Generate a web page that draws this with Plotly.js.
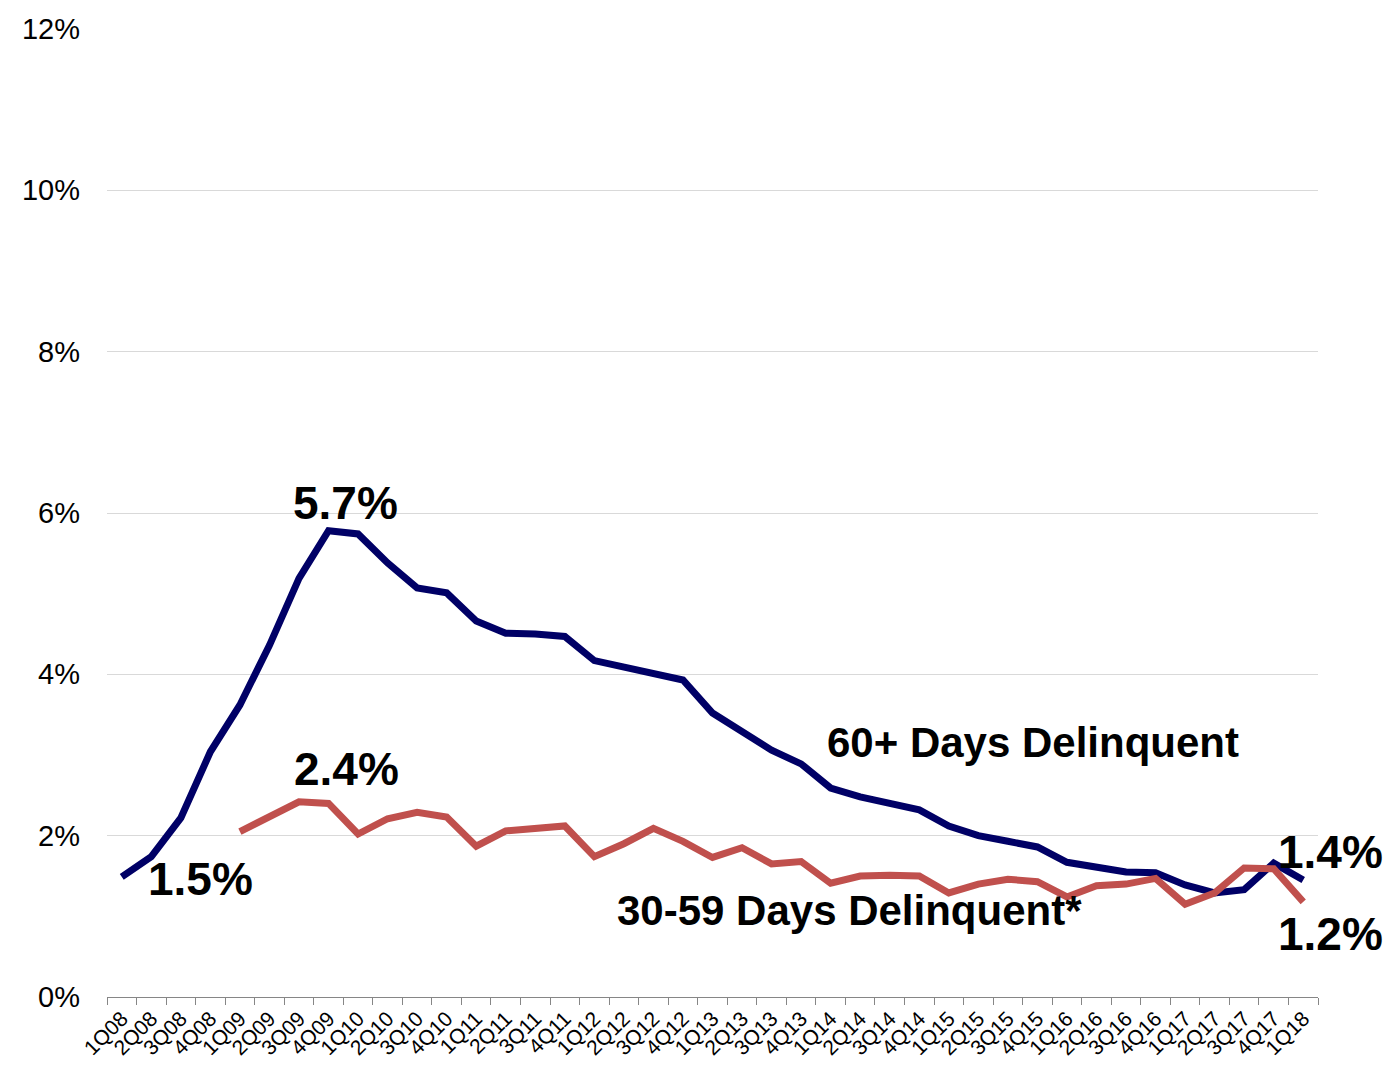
<!DOCTYPE html>
<html>
<head>
<meta charset="utf-8">
<script src="https://cdn.plot.ly/plotly-3.0.1.min.js"></script>
<style>
  html, body { margin: 0; padding: 0; background: #fff; }
  #plot { width: 1389px; height: 1066px; }
</style>
</head>
<body>
<div id="plot"></div>
<script>
const quarters = [
    '1Q08', '2Q08', '3Q08', '4Q08',
    '1Q09', '2Q09', '3Q09', '4Q09',
    '1Q10', '2Q10', '3Q10', '4Q10',
    '1Q11', '2Q11', '3Q11', '4Q11',
    '1Q12', '2Q12', '3Q12', '4Q12',
    '1Q13', '2Q13', '3Q13', '4Q13',
    '1Q14', '2Q14', '3Q14', '4Q14',
    '1Q15', '2Q15', '3Q15', '4Q15',
    '1Q16', '2Q16', '3Q16', '4Q16',
    '1Q17', '2Q17', '3Q17', '4Q17',
    '1Q18',
];

// 60+ days delinquent, percent
const delinq60 = [
    1.49, 1.74, 2.22, 3.04,
    3.62, 4.36, 5.19, 5.78,
    5.74, 5.38, 5.07, 5.01,
    4.66, 4.51, 4.50, 4.47,
    4.17, 4.09, 4.03, 3.93,
    3.52, 3.30, 3.06, 2.89,
    2.59, 2.48, 2.39, 2.32,
    2.12, 2.00, 1.93, 1.86,
    1.67, 1.60, 1.55, 1.54,
    1.39, 1.29, 1.33, 1.66,
    1.45,
];

// 30-59 days delinquent, percent (series starts 1Q09)
const delinq30 = [
    null, null, null, null,
    2.05, 2.24, 2.42, 2.40,
    2.02, 2.21, 2.29, 2.23,
    1.87, 2.06, 2.08, 2.12,
    1.74, 1.90, 2.09, 1.93,
    1.73, 1.85, 1.65, 1.68,
    1.41, 1.50, 1.51, 1.50,
    1.29, 1.40, 1.46, 1.43,
    1.24, 1.38, 1.40, 1.47,
    1.15, 1.29, 1.60, 1.59,
    1.18,
];

const yTicks = [0, 2, 4, 6, 8, 10, 12];
const yTickText = ['0%', '2%', '4%', '6%', '8%', '10%', '12%'];

const font = 'Arial, "Liberation Sans", sans-serif';
const navy = '#000066';
const red = '#C0504D';

const data = [
    {
        x: quarters,
        y: delinq60,
        type: 'scatter',
        mode: 'lines',
        name: '60+ Days Delinquent',
        line: {color: navy, width: 7},
    },
    {
        x: quarters,
        y: delinq30,
        type: 'scatter',
        mode: 'lines',
        name: '30-59 Days Delinquent*',
        connectgaps: false,
        line: {color: red, width: 7},
    },
];

function label(text, x, y, size, xref) {
    return {
        text: '<b>' + text + '</b>',
        x: x,
        y: y,
        xref: xref || 'x',
        yref: 'y',
        showarrow: false,
        xanchor: 'center',
        yanchor: 'middle',
        font: {family: font, size: size, color: '#000'},
    };
}

const layout = {
    width: 1389,
    height: 1066,
    margin: {l: 107, r: 71, t: 29, b: 69},
    paper_bgcolor: '#fff',
    plot_bgcolor: '#fff',
    showlegend: false,
    font: {family: font, color: '#000'},
    xaxis: {
        type: 'category',
        range: [-0.5, quarters.length - 0.5],
        tickangle: -45,
        tickson: 'boundaries',
        ticks: 'outside',
        ticklen: 7,
        tickcolor: '#868686',
        tickwidth: 1,
        showline: true,
        linecolor: '#868686',
        linewidth: 1,
        showgrid: false,
        tickfont: {family: font, size: 21, color: '#000'},
        fixedrange: true,
    },
    yaxis: {
        range: [0, 12],
        tickvals: yTicks,
        ticktext: yTickText,
        showgrid: true,
        gridcolor: '#d9d9d9',
        gridwidth: 1,
        zeroline: false,
        showline: false,
        ticks: '',
        ticklabelstandoff: 26,
        tickfont: {family: font, size: 29, color: '#000'},
        fixedrange: true,
    },
    annotations: [
        label('5.7%', 7.59, 6.12, 46),
        label('2.4%', 7.62, 2.83, 46),
        label('1.5%', 2.65, 1.46, 46),
        label('1.4%', 1.01, 1.80, 46, 'paper'),
        label('1.2%', 1.01, 0.78, 46, 'paper'),
        label('60+ Days Delinquent', 30.85, 3.16, 42),
        label('30-59 Days Delinquent*', 24.65, 1.07, 42),
    ],
};

Plotly.newPlot('plot', data, layout, {displayModeBar: false, staticPlot: true});
</script>
</body>
</html>
